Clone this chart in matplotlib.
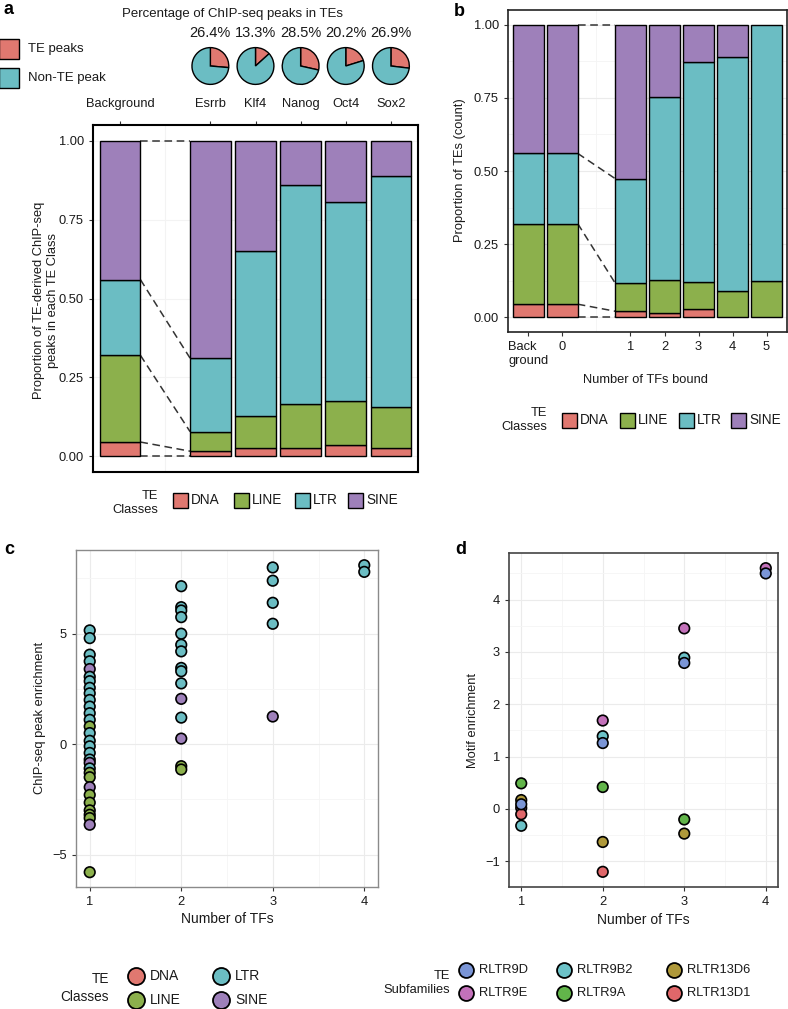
import numpy as np
import matplotlib
matplotlib.use("Agg")
import matplotlib.pyplot as plt
from matplotlib.patches import Rectangle

# ---- data -------------------------------------------------------------
te_classes = ["DNA", "LINE", "LTR", "SINE"]
class_colors = {"DNA": "#E07870", "LINE": "#8CB04C", "LTR": "#6BBDC3", "SINE": "#9E80BA"}

# panel a: proportion of TE-derived peaks per class ('' = spacer column)
a_labels = ["Background", "", "Esrrb", "Klf4", "Nanog", "Oct4", "Sox2"]
a_dna = [0.045, 0.016, 0.025, 0.025, 0.036, 0.025]
a_line = [0.275, 0.062, 0.101, 0.142, 0.140, 0.130]
a_ltr = [0.240, 0.233, 0.524, 0.694, 0.631, 0.734]
a_sine = [0.440, 0.689, 0.350, 0.139, 0.193, 0.111]

# pies: percentage of ChIP-seq peaks in TEs
pie_tfs = ["Esrrb", "Klf4", "Nanog", "Oct4", "Sox2"]
pie_te_pct = [26.4, 13.3, 28.5, 20.2, 26.9]

# panel b: proportion of TEs by number of TFs bound
b_labels = ["Back\nground", "0", "", "1", "2", "3", "4", "5"]
b_dna = [0.045, 0.045, 0.021, 0.015, 0.029, 0.0, 0.0]
b_line = [0.275, 0.275, 0.096, 0.111, 0.093, 0.090, 0.125]
b_ltr = [0.240, 0.240, 0.357, 0.628, 0.752, 0.799, 0.875]
b_sine = [0.440, 0.440, 0.526, 0.246, 0.126, 0.111, 0.0]

# panel c: ChIP-seq peak enrichment per TE subfamily
c_ntf = [1] * 31 + [2] * 15 + [3] * 5 + [4] * 2
c_enr = [5.15, 4.8, 4.05, 3.75, 3.4, 3.05, 2.85, 2.55, 2.3, 2.0, 1.7, 1.4, 1.1,
         0.8, 0.5, 0.15, -0.1, -0.4, -0.7, -0.85, -1.1, -1.3, -1.5, -1.95, -2.3,
         -2.65, -3.0, -3.2, -3.35, -3.65, -5.8,
         7.15, 6.2, 6.05, 5.75, 5.0, 4.5, 4.2, 3.45, 3.3, 2.75, 2.05, 1.2, 0.25, -1.0, -1.15,
         8.0, 7.4, 6.4, 5.45, 1.25,
         8.1, 7.8]
c_cls = ["LTR", "LTR", "LTR", "LTR", "SINE", "LTR", "LTR", "LTR", "LTR", "LTR", "LTR", "LTR", "LTR",
         "LINE", "LTR", "LTR", "LTR", "LTR", "LTR", "SINE", "LTR", "LINE", "LINE", "SINE", "LINE",
         "LINE", "LINE", "LINE", "LINE", "SINE", "LINE",
         "LTR", "LTR", "LTR", "LTR", "LTR", "LTR", "LTR", "LTR", "LTR", "LTR", "SINE", "LTR", "SINE", "LINE", "LINE",
         "LTR", "LTR", "LTR", "LTR", "SINE",
         "LTR", "LTR"]

# panel d: motif enrichment per subfamily
subfamilies = ["RLTR9D", "RLTR9E", "RLTR9B2", "RLTR9A", "RLTR13D6", "RLTR13D1"]
sub_colors = {"RLTR9D": "#7A95D6", "RLTR9E": "#C371BA", "RLTR9B2": "#6CC2C8",
              "RLTR9A": "#62B54A", "RLTR13D6": "#AF993A", "RLTR13D1": "#E0676A"}
d_ntf = [1, 1, 1, 1, 1, 1, 2, 2, 2, 2, 2, 2, 3, 3, 3, 3, 3, 4, 4]
d_enr = [0.49, 0.17, -0.32, 0.02, -0.10, 0.09,
         0.42, -0.63, -1.20, 1.39, 1.69, 1.26,
         -0.20, -0.47, 2.89, 3.45, 2.79,
         4.60, 4.50]
d_sub = ["RLTR9A", "RLTR13D6", "RLTR9B2", "RLTR9E", "RLTR13D1", "RLTR9D",
         "RLTR9A", "RLTR13D6", "RLTR13D1", "RLTR9B2", "RLTR9E", "RLTR9D",
         "RLTR9A", "RLTR13D6", "RLTR9B2", "RLTR9E", "RLTR9D",
         "RLTR9E", "RLTR9D"]

# ---- figure -----------------------------------------------------------
W, H = 788, 1009
plt.rcParams["font.family"] = ["Liberation Sans", "DejaVu Sans"]
fig = plt.figure(figsize=(W / 100, H / 100), dpi=100)
NARROW = ["Liberation Sans Narrow", "Liberation Sans", "DejaVu Sans"]
TXT = "#1a1a1a"
DASH = "#333333"
FS = 9.3


def axes_px(l, t, r, b):
    return fig.add_axes([l / W, 1 - b / H, (r - l) / W, (b - t) / H])


def ftext(x, y, s, **kw):
    kw.setdefault("color", TXT)
    fig.text(x / W, 1 - y / H, s, **kw)


def stacked(ax, pos, parts):
    pos = np.array(pos, dtype=float)
    bottom = np.zeros(len(pos))
    levels = [bottom.copy()]
    for name, vals in parts:
        vals = np.array(vals, dtype=float)
        keep = vals > 0
        ax.bar(pos[keep], vals[keep], bottom=bottom[keep], width=0.9,
               color=class_colors[name], edgecolor="black", linewidth=1, zorder=2)
        bottom = bottom + vals
        levels.append(bottom.copy())
    return np.array(levels)  # shape (5, nbars)


def connectors(ax, levels, i, j, xi, xj):
    for k in range(levels.shape[0]):
        ax.plot([xi + 0.45, xj - 0.45], [levels[k, i], levels[k, j]], color=DASH,
                lw=1.1, dashes=(5, 3), zorder=1, clip_on=False)


def style_frame(ax, color, lw):
    for s in ax.spines.values():
        s.set_color(color)
        s.set_linewidth(lw)
    ax.tick_params(colors="#333333", labelcolor=TXT, length=3, width=0.8, labelsize=FS)


# ---- panel a ----------------------------------------------------------
ax_a = axes_px(93, 125, 418, 472)
a_pos = [i for i, lab in enumerate(a_labels) if lab]
lev_a = stacked(ax_a, a_pos, [("DNA", a_dna), ("LINE", a_line), ("LTR", a_ltr), ("SINE", a_sine)])
connectors(ax_a, lev_a, 0, 1, a_pos[0], a_pos[1])
ax_a.set_xlim(-0.6, len(a_labels) - 0.4)
ax_a.set_ylim(-0.05, 1.05)
ax_a.set_yticks([0, 0.25, 0.5, 0.75, 1.0])
ax_a.set_yticklabels(["0.00", "0.25", "0.50", "0.75", "1.00"])
ax_a.xaxis.tick_top()
ax_a.set_xticks(a_pos)
ax_a.set_xticklabels([a_labels[p] for p in a_pos])
ax_a.set_xticks(range(len(a_labels)), minor=True)
ax_a.grid(True, which="major", axis="y", color="#F3F3F3", lw=0.8, zorder=0)
ax_a.grid(True, which="minor", axis="x", color="#F3F3F3", lw=0.8, zorder=0)
ax_a.tick_params(axis="x", which="minor", length=0)
ax_a.set_axisbelow(True)
style_frame(ax_a, "black", 1.5)
ax_a.tick_params(axis="x", which="major", pad=8)

ftext(46, 300, "Proportion of TE-derived ChIP-seq\npeaks in each TE Class", rotation=90,
      ha="center", va="center", multialignment="center", fontsize=FS, linespacing=1.15)

# pies positioned over the panel-a columns
fig.canvas.draw()
r_px = 23
for tf, pct in zip(pie_tfs, pie_te_pct):
    p = a_labels.index(tf)
    cx = ax_a.transData.transform((p, 0))[0]
    ax_p = axes_px(cx - r_px, 66 - r_px, cx + r_px, 66 + r_px)
    ax_p.pie([pct, 100 - pct], colors=[class_colors["DNA"], class_colors["LTR"]],
             startangle=90, counterclock=False,
             wedgeprops=dict(edgecolor="black", linewidth=1))
    ax_p.set_aspect("equal")
    ftext(cx, 33, f"{pct}%", ha="center", va="center", fontsize=10.5)

ftext(232, 14, "Percentage of ChIP-seq peaks in TEs", ha="center", va="center", fontsize=9.5)

# ---- panel b ----------------------------------------------------------
ax_b = axes_px(508, 10, 787, 332)
b_pos = [i for i, lab in enumerate(b_labels) if lab]
lev_b = stacked(ax_b, b_pos, [("DNA", b_dna), ("LINE", b_line), ("LTR", b_ltr), ("SINE", b_sine)])
connectors(ax_b, lev_b, 1, 2, b_pos[1], b_pos[2])
ax_b.set_xlim(-0.6, len(b_labels) - 0.4)
ax_b.set_ylim(-0.05, 1.05)
ax_b.set_yticks([0, 0.25, 0.5, 0.75, 1.0])
ax_b.set_yticklabels(["0.00", "0.25", "0.50", "0.75", "1.00"])
ax_b.set_yticks([0.125, 0.375, 0.625, 0.875], minor=True)
ax_b.set_xticks(b_pos)
ax_b.set_xticklabels([b_labels[p] for p in b_pos], multialignment="left")
ax_b.set_xticks(range(len(b_labels)), minor=True)
ax_b.grid(True, which="major", axis="y", color="#EBEBEB", lw=0.8, zorder=0)
ax_b.grid(True, which="minor", color="#F4F4F4", lw=0.6, zorder=0)
ax_b.tick_params(which="minor", length=0)
ax_b.set_axisbelow(True)
style_frame(ax_b, "#222222", 1.2)
ftext(460, 170, "Proportion of TEs (count)", rotation=90, ha="center", va="center", fontsize=FS)
ftext(645, 380, "Number of TFs bound", ha="center", va="center", fontsize=FS)

# ---- panel c ----------------------------------------------------------
ax_c = axes_px(76, 550, 378, 887)
ax_c.scatter(c_ntf, c_enr, s=58, c=[class_colors[k] for k in c_cls],
             edgecolors="black", linewidths=1.2, zorder=3)
ax_c.set_xlim(0.85, 4.15)
ax_c.set_ylim(-6.47, 8.79)
ax_c.set_xticks([1, 2, 3, 4])
ax_c.set_xticks([1.5, 2.5, 3.5], minor=True)
ax_c.set_yticks([-5, 0, 5])
ax_c.set_yticklabels(["\u22125", "0", "5"])
ax_c.set_yticks([-2.5, 2.5, 7.5], minor=True)
ax_c.grid(True, which="major", color="#EBEBEB", lw=0.8, zorder=0)
ax_c.grid(True, which="minor", color="#F5F5F5", lw=0.6, zorder=0)
ax_c.tick_params(which="minor", length=0)
ax_c.set_axisbelow(True)
style_frame(ax_c, "#8A8A8A", 1.0)
ftext(40, 718, "ChIP-seq peak enrichment", rotation=90, ha="center", va="center", fontsize=FS)
ftext(227, 919, "Number of TFs", ha="center", va="center", fontsize=10, family=NARROW)

# ---- panel d ----------------------------------------------------------
ax_d = axes_px(509, 553, 778, 887)
ax_d.scatter(d_ntf, d_enr, s=58, c=[sub_colors[k] for k in d_sub],
             edgecolors="black", linewidths=1.2, zorder=3)
ax_d.set_xlim(0.85, 4.15)
ax_d.set_ylim(-1.49, 4.89)
ax_d.set_xticks([1, 2, 3, 4])
ax_d.set_xticks([1.5, 2.5, 3.5], minor=True)
ax_d.set_yticks([-1, 0, 1, 2, 3, 4])
ax_d.set_yticklabels(["\u22121", "0", "1", "2", "3", "4"])
ax_d.set_yticks([-0.5, 0.5, 1.5, 2.5, 3.5, 4.5], minor=True)
ax_d.grid(True, which="major", color="#EBEBEB", lw=0.8, zorder=0)
ax_d.grid(True, which="minor", color="#F5F5F5", lw=0.6, zorder=0)
ax_d.tick_params(which="minor", length=0)
ax_d.set_axisbelow(True)
style_frame(ax_d, "#444444", 1.2)
ftext(473, 720, "Motif enrichment", rotation=90, ha="center", va="center", fontsize=FS)
ftext(643, 920, "Number of TFs", ha="center", va="center", fontsize=10, family=NARROW)

# ---- overlay: legends and panel letters -------------------------------
ov = fig.add_axes([0, 0, 1, 1], zorder=10)
ov.set_xlim(0, W)
ov.set_ylim(H, 0)
ov.axis("off")

# pie legend
for (label, col), y in zip([("TE peaks", class_colors["DNA"]), ("Non-TE peak", class_colors["LTR"])], [49, 78]):
    ov.add_patch(Rectangle((-1, y - 10), 20, 20, facecolor=col, edgecolor="black", lw=1, clip_on=False))
    ov.text(28, y, label, ha="left", va="center", fontsize=9.5, color=TXT)


def square_legend(title_x, title_y, box_x, y, size=15):
    ov.text(title_x, title_y, "TE\nClasses", ha="right", va="center", multialignment="right",
            fontsize=9.3, color=TXT, linespacing=1.15)
    for cls, bx in zip(te_classes, box_x):
        ov.add_patch(Rectangle((bx, y - size / 2), size, size, facecolor=class_colors[cls],
                               edgecolor="black", lw=1))
        ov.text(bx + size + 3, y, cls, ha="left", va="center", fontsize=9.8, color=TXT)


square_legend(158, 503, [173, 234, 295, 348], 500)
square_legend(547, 420, [562, 620, 679, 731], 420)

# panel c legend (2 columns of circles)
ov.text(109, 988, "TE\nClasses", ha="right", va="center", multialignment="right",
        fontsize=9.8, color=TXT, family=NARROW, linespacing=1.3)
for cls, (cx, cy) in zip(te_classes, [(136, 976), (136, 1000), (221, 976), (221, 1000)]):
    ov.scatter([cx], [cy], s=150, color=class_colors[cls], edgecolors="black", linewidths=1.3)
    ov.text(cx + 14, cy, cls, ha="left", va="center", fontsize=10, color=TXT, family=NARROW)

# panel d legend
ov.text(450, 983, "TE\nSubfamilies", ha="right", va="center", multialignment="right",
        fontsize=9.3, color=TXT, family=NARROW, linespacing=1.3)
sub_xy = [(466, 970), (466, 993), (564, 970), (564, 993), (674, 970), (674, 993)]
for sub, (cx, cy) in zip(["RLTR9D", "RLTR9E", "RLTR9B2", "RLTR9A", "RLTR13D6", "RLTR13D1"], sub_xy):
    ov.scatter([cx], [cy], s=115, color=sub_colors[sub], edgecolors="black", linewidths=1.3)
    ov.text(cx + 13, cy, sub, ha="left", va="center", fontsize=9.3, color=TXT, family=NARROW)

for letter, (x, y) in zip("abcd", [(4, 10), (454, 12), (4, 550), (455, 550)]):
    ov.text(x, y, letter, ha="left", va="center", fontsize=13, fontweight="bold", color="black")

fig.savefig("out.png", dpi=100)
